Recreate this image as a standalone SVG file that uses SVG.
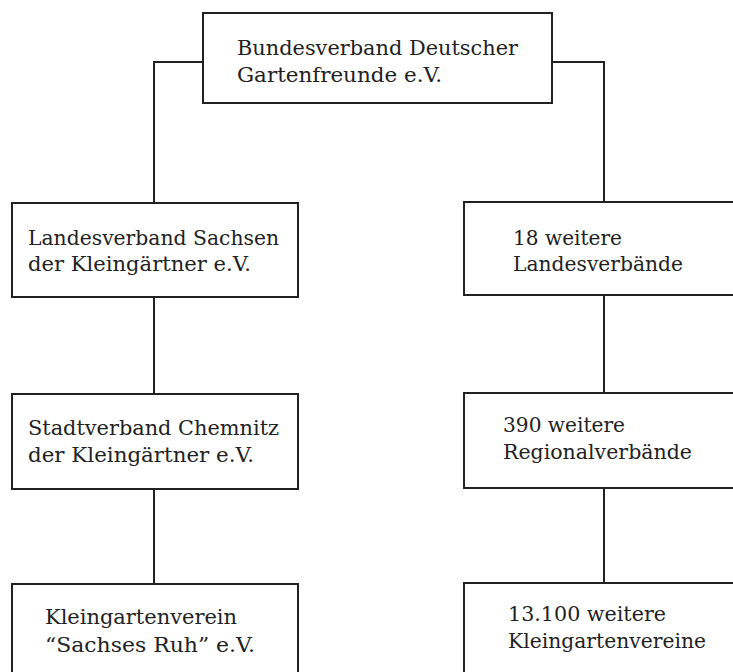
<svg xmlns="http://www.w3.org/2000/svg" width="733" height="672" viewBox="0 0 733 672">
<style>
rect{fill:#fff;stroke:#222;stroke-width:2}
.c{fill:none;stroke:#222;stroke-width:2}
text{font-family:"DejaVu Serif","Liberation Serif",serif;font-size:21px;fill:#222}
</style>
<rect x="0" y="0" width="733" height="672" style="stroke:none"/>
<g id="connectors">
<polyline class="c" points="203,62 154,62 154,203"/>
<polyline class="c" points="552,62 604,62 604,202"/>
<line class="c" x1="154" y1="297" x2="154" y2="394"/>
<line class="c" x1="154" y1="489" x2="154" y2="584"/>
<line class="c" x1="604" y1="295" x2="604" y2="393"/>
<line class="c" x1="604" y1="488" x2="604" y2="583"/>
</g>
<g id="bund">
<rect x="203" y="13" width="349" height="90"/>
<text x="237" y="55" textLength="281" lengthAdjust="spacingAndGlyphs">Bundesverband Deutscher</text>
<text x="237" y="82" textLength="205" lengthAdjust="spacingAndGlyphs">Gartenfreunde e.V.</text>
</g>
<g id="lv-sachsen">
<rect x="12" y="203" width="286" height="94"/>
<text x="28" y="245" textLength="251" lengthAdjust="spacingAndGlyphs">Landesverband Sachsen</text>
<text x="28" y="271" textLength="223" lengthAdjust="spacingAndGlyphs">der Kleingärtner e.V.</text>
</g>
<g id="lv-weitere">
<rect x="464" y="202" width="290" height="93"/>
<text x="513" y="245" textLength="109" lengthAdjust="spacingAndGlyphs">18 weitere</text>
<text x="513" y="271" textLength="170" lengthAdjust="spacingAndGlyphs">Landesverbände</text>
</g>
<g id="sv-chemnitz">
<rect x="12" y="394" width="286" height="95"/>
<text x="28" y="435" textLength="251" lengthAdjust="spacingAndGlyphs">Stadtverband Chemnitz</text>
<text x="28" y="462" textLength="226" lengthAdjust="spacingAndGlyphs">der Kleingärtner e.V.</text>
</g>
<g id="rv-weitere">
<rect x="464" y="393" width="290" height="95"/>
<text x="503" y="432" textLength="122" lengthAdjust="spacingAndGlyphs">390 weitere</text>
<text x="503" y="459" textLength="189" lengthAdjust="spacingAndGlyphs">Regionalverbände</text>
</g>
<g id="kgv-sachses-ruh">
<rect x="12" y="584" width="286" height="110"/>
<text x="45" y="624" textLength="192" lengthAdjust="spacingAndGlyphs">Kleingartenverein</text>
<text x="45" y="652" textLength="210" lengthAdjust="spacingAndGlyphs">“Sachses Ruh” e.V.</text>
</g>
<g id="kgv-weitere">
<rect x="464" y="583" width="290" height="110"/>
<text x="508" y="621" textLength="158" lengthAdjust="spacingAndGlyphs">13.100 weitere</text>
<text x="508" y="648" textLength="198" lengthAdjust="spacingAndGlyphs">Kleingartenvereine</text>
</g>
</svg>
